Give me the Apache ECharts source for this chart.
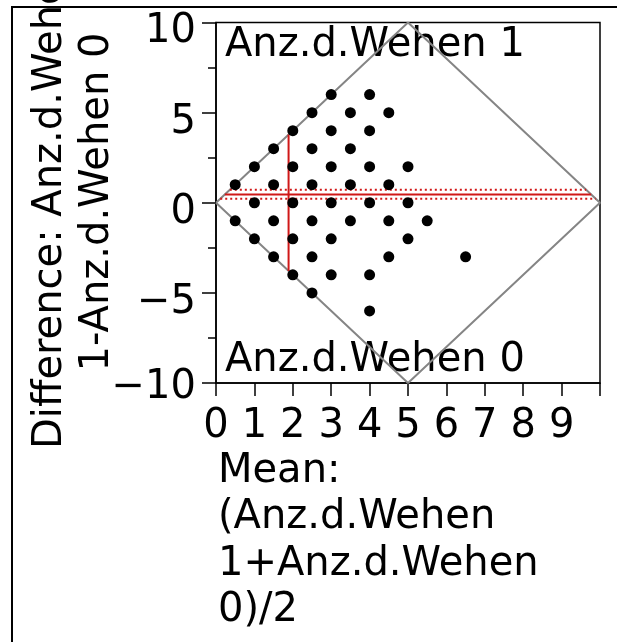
<!DOCTYPE html>
<html>
<head>
<meta charset="utf-8">
<script src="https://cdn.jsdelivr.net/npm/echarts@6/dist/echarts.min.js"></script>
<style>
html,body{margin:0;padding:0;background:#fff;}
#c{width:617px;height:642px;}
</style>
</head>
<body>
<div id="c"></div>
<script>
// Data: mean of the two counts (x) and difference (y) for each plotted point
const means = [3,4, 2.5,3.5,4.5, 2,3,4, 1.5,2.5,3.5, 1,2,3,4,5, 0.5,1.5,2.5,3.5,4.5, 1,2,3,4,5,
               0.5,1.5,2.5,3.5,4.5,5.5, 1,2,3,5, 1.5,2.5,4.5,6.5, 2,3,4, 2.5, 4];
const diffs = [6,6, 5,5,5, 4,4,4, 3,3,3, 2,2,2,2,2, 1,1,1,1,1, 0,0,0,0,0,
               -1,-1,-1,-1,-1,-1, -2,-2,-2,-2, -3,-3,-3,-3, -4,-4,-4, -5, -6];
// Summary statistics
const meanDiff = 0.46;
const ciLower = 0.22;
const ciUpper = 0.72;
const meanOfMeans = 1.89;
// Diamond (range limits)
const diamondX = [0, 5, 10, 5, 0];
const diamondY = [0, 10, 0, -10, 0];
// Axis tick labels
const xTickLabels = ['0','1','2','3','4','5','6','7','8','9',''];
const yTickLabels = {'10':'10','5':'5','0':'0','-5':'\u22125','-10':'\u221210'};
const xMax = 10;

const FONT = 'DejaVu Sans';
const FS = 40;
const chart = echarts.init(document.getElementById('c'), null, {renderer:'canvas'});

function hLine(d){ return [[Math.abs(d)/2, d],[xMax - Math.abs(d)/2, d]]; }

const option = {
  animation:false,
  backgroundColor:'#fff',
  grid:{left:216, top:22.5, right:17, bottom:259, show:true, borderColor:'#000', borderWidth:1.5, backgroundColor:'transparent'},
  xAxis:{
    type:'value', min:0, max:10, interval:1,
    axisLine:{show:true, onZero:false, lineStyle:{color:'#000', width:1.5}},
    axisTick:{show:true, inside:false, length:13, lineStyle:{color:'#000', width:1.5}},
    axisLabel:{show:true, margin:24, color:'#000', fontFamily:FONT, fontSize:FS,
      formatter:(v)=>xTickLabels[Math.round(v)]},
    splitLine:{show:false}
  },
  yAxis:{
    type:'value', min:-10, max:10, interval:5,
    axisLine:{show:true, onZero:false, lineStyle:{color:'#000', width:1.5}},
    axisTick:{show:true, inside:false, length:14, lineStyle:{color:'#000', width:1.5}},
    minorTick:{show:true, splitNumber:2, length:8, lineStyle:{color:'#000', width:1.5}},
    axisLabel:{show:true, margin:20, color:'#000', fontFamily:FONT, fontSize:FS,
      formatter:(v)=> v === -10 ? '{e|'+yTickLabels[String(v)]+'}' : '{d|'+yTickLabels[String(v)]+'}',
      rich:{
        d:{fontFamily:FONT, fontSize:FS, color:'#000', padding:[19,0,0,0]},
        e:{fontFamily:FONT, fontSize:FS, color:'#000', padding:[9,0,0,0]}
      }},
    splitLine:{show:false}
  },
  series:[
    {type:'line', data:diamondX.map((x,i)=>[x, diamondY[i]]), symbol:'none',
      lineStyle:{color:'#858585', width:2}, z:3, silent:true},
    {type:'line', data:hLine(ciUpper), symbol:'none',
      lineStyle:{color:'#d01818', width:2, type:[2,3]}, z:4},
    {type:'line', data:hLine(ciLower), symbol:'none',
      lineStyle:{color:'#d01818', width:2, type:[2,3]}, z:4},
    {type:'line', data:hLine(meanDiff), symbol:'none',
      lineStyle:{color:'#d01818', width:2}, z:4},
    {type:'line', data:[[meanOfMeans, -2*meanOfMeans],[meanOfMeans, 2*meanOfMeans]], symbol:'none',
      lineStyle:{color:'#d01818', width:2}, z:4},
    {type:'scatter', data:means.map((m,i)=>[m, diffs[i]]), symbol:'circle', symbolSize:11,
      itemStyle:{color:'#000', opacity:1}, z:5}
  ],
  graphic:[
    {type:'rect', shape:{x:12, y:7, width:640, height:660}, style:{fill:'none', stroke:'#000', lineWidth:2}, z:0},
    {type:'text', x:225, y:66, style:{text:'Anz.d.Wehen 1', font:FS+'px "DejaVu Sans"', fill:'#000', textVerticalAlign:'bottom'}, z:1},
    {type:'text', x:225, y:381, style:{text:'Anz.d.Wehen 0', font:FS+'px "DejaVu Sans"', fill:'#000', textVerticalAlign:'bottom'}, z:1},
    {type:'text', x:51, y:202, rotation:Math.PI/2, style:{text:'Difference: Anz.d.Wehen', font:FS+'px "DejaVu Sans"', fill:'#000', textAlign:'center', textVerticalAlign:'middle'}, z:1},
    {type:'text', x:98, y:202, rotation:Math.PI/2, style:{text:'1-Anz.d.Wehen 0', font:FS+'px "DejaVu Sans"', fill:'#000', textAlign:'center', textVerticalAlign:'middle'}, z:1},
    {type:'text', x:218, y:448, style:{text:'Mean:\n(Anz.d.Wehen\n1+Anz.d.Wehen\n0)/2', font:FS+'px "DejaVu Sans"', lineHeight:46.5, fill:'#000', textVerticalAlign:'top'}, z:1}
  ]
};
chart.setOption(option);
</script>
</body>
</html>
